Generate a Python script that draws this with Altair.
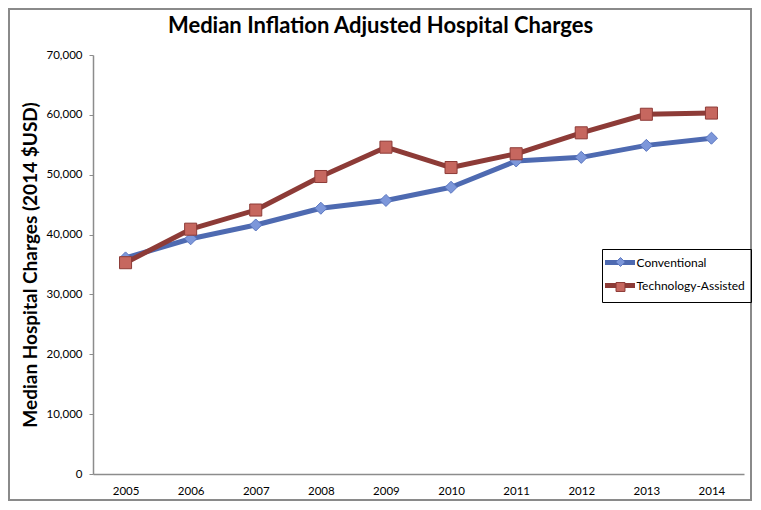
import altair as alt
import pandas as pd

years = ["2005", "2006", "2007", "2008", "2009", "2010", "2011", "2012", "2013", "2014"]
conventional = [36100, 39300, 41600, 44400, 45700, 47900, 52300, 52900, 54900, 56100]
technology = [35300, 40900, 44100, 49700, 54600, 51200, 53500, 57000, 60100, 60300]
series_names = ["Conventional", "Technology-Assisted"]
line_colors = ["#4e6ab1", "#8d3b37"]
marker_fills = ["#7d97da", "#c6675f"]
marker_strokes = ["#5b77c0", "#8d3b37"]
marker_shapes = ["diamond", "square"]
y_ticks = [0, 10000, 20000, 30000, 40000, 50000, 60000, 70000]

rows = []
for name, vals in zip(series_names, [conventional, technology]):
    for yr, v in zip(years, vals):
        rows.append({"year": yr, "value": v, "series": name})
df = pd.DataFrame(rows)

FONT = "Lato"
AXIS_GRAY = "#8c8c8c"
LEG_PAD = 6

base = alt.Chart(df).encode(
    x=alt.X(
        "year:O",
        scale=alt.Scale(type="point", padding=0.5),
        axis=alt.Axis(
            title=None, ticks=False, labelAngle=0, labelPadding=11,
            labelFont=FONT, labelFontSize=11.5, labelColor="black",
            domainColor=AXIS_GRAY, domainWidth=1.5, grid=False,
        ),
    ),
    y=alt.Y(
        "value:Q",
        scale=alt.Scale(domain=[0, 70000], nice=False),
        axis=alt.Axis(
            values=y_ticks, format=",d",
            title="Median Hospital Charges (2014 $USD)",
            titleFont=FONT, titleFontSize=19, titleFontWeight="bold",
            titleColor="black", titlePadding=6,
            labelFont=FONT, labelFontSize=11.5, labelColor="black",
            labelPadding=7, tickSize=4, tickColor=AXIS_GRAY,
            domainColor=AXIS_GRAY, domainWidth=1.5, grid=False,
        ),
    ),
)

line_legend = alt.Legend(
    title=None, orient="none", legendX=509, legendY=194,
    symbolType="M-3,0H3", symbolSize=100, symbolStrokeWidth=5,
    symbolOffset=4.5, labelOffset=9,
    labelFont=FONT, labelFontSize=12, labelColor="black",
    strokeColor="black", padding=LEG_PAD, rowPadding=2,
)

marker_legend = alt.Legend(
    title=None, orient="none", legendX=509, legendY=195,
    symbolSize=80, symbolStrokeWidth=1, symbolOpacity=1,
    symbolOffset=6.5, labelExpr="''",
    labelFont=FONT, labelFontSize=12, labelColor="transparent",
    padding=LEG_PAD, rowPadding=11,
)

lines = base.mark_line(strokeWidth=5, strokeJoin="round").encode(
    stroke=alt.Stroke(
        "series:N",
        scale=alt.Scale(domain=series_names, range=line_colors),
        legend=line_legend,
    )
)

points = base.mark_point(filled=True, strokeWidth=1, opacity=1, size=145).encode(
    shape=alt.Shape("series:N", scale=alt.Scale(domain=series_names, range=marker_shapes), legend=marker_legend),
    fill=alt.Fill("series:N", scale=alt.Scale(domain=series_names, range=marker_fills), legend=marker_legend),
    stroke=alt.Stroke("series:N", scale=alt.Scale(domain=series_names, range=marker_strokes), legend=marker_legend),
)

border = alt.Chart(pd.DataFrame({"k": [0]})).mark_rect(
    filled=False, stroke="#8a8a8a", strokeWidth=2
).encode(
    x=alt.value(-84), x2=alt.value(658), y=alt.value(-46), y2=alt.value(445)
)

chart = alt.layer(border, lines, points).resolve_scale(
    stroke="independent", fill="independent", shape="independent"
).properties(
    width=651, height=419,
    title=alt.TitleParams(
        "Median Inflation Adjusted Hospital Charges",
        frame="group", anchor="middle", dx=-38, dy=69, offset=22,
        baseline="alphabetic", font=FONT, fontSize=22,
        fontWeight="bold", color="black",
    ),
    autosize=alt.AutoSizeParams(type="none"),
    padding={"left": 85, "top": 47, "right": 8, "bottom": 27},
).configure_view(stroke=None)

chart.save("out.html", embed_options={"renderer": "svg", "actions": False})
